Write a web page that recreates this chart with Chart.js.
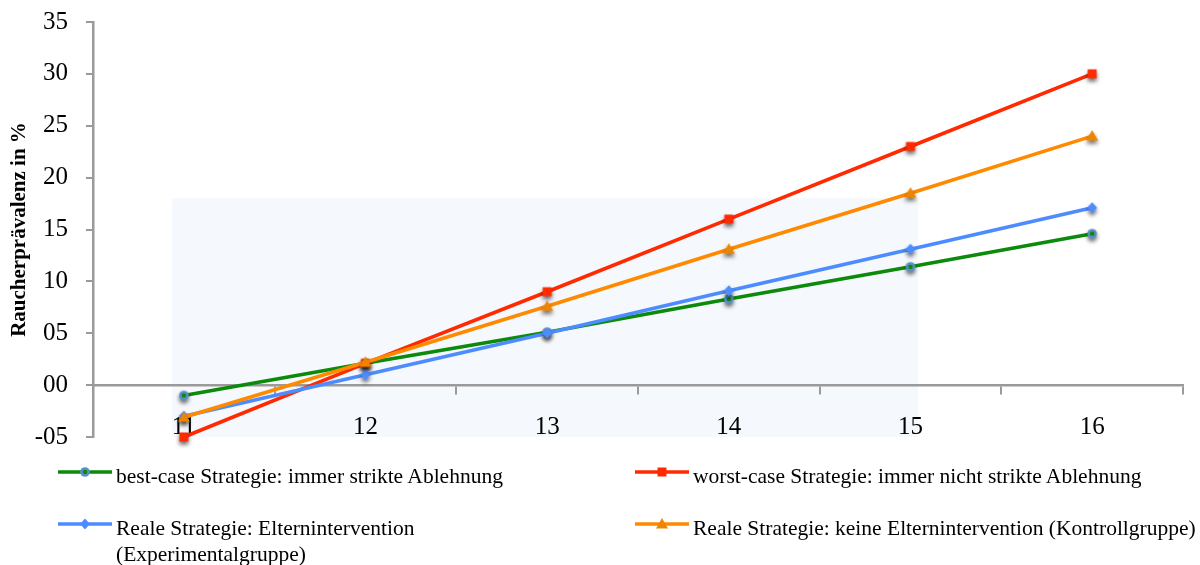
<!DOCTYPE html>
<html>
<head>
<meta charset="utf-8">
<script src="https://cdn.jsdelivr.net/npm/chart.js@4/dist/chart.umd.min.js"></script>
<style>
  html, body { margin: 0; padding: 0; background: #ffffff; }
  #wrap { position: relative; width: 1200px; height: 565px; overflow: hidden; }
  #chart { position: absolute; left: 0; top: 0; }
  .lg-item { position: absolute; }
  .lg-item canvas { position: absolute; left: 0; top: 0; }
  .lg-text { position: absolute; font-family: "Liberation Serif", "Times New Roman", serif; font-size: 21.5px; line-height: 26px; color: #000; }
</style>
</head>
<body>
<div id="wrap">
  <canvas id="chart" width="1200" height="565"></canvas>
  <div id="legend"></div>
</div>
<script>
// ---- data ----
const ages = ['11', '12', '13', '14', '15', '16'];
const bestCase = [-1.0, 2.1, 5.1, 8.3, 11.4, 14.6];
const worstCase = [-5.0, 2.1, 9.0, 16.0, 23.0, 30.0];
const realWithIntervention = [-3.0, 1.0, 5.0, 9.1, 13.1, 17.1];
const realNoIntervention = [-3.1, 2.2, 7.6, 13.1, 18.5, 24.0];
const seriesLabels = [
  'best-case Strategie: immer strikte Ablehnung',
  'worst-case Strategie: immer nicht strikte Ablehnung',
  'Reale Strategie: Elternintervention (Experimentalgruppe)',
  'Reale Strategie: keine Elternintervention (Kontrollgruppe)'
];
const yMin = -5, yMax = 35, yStep = 5;
const yTitle = 'Raucherprävalenz in %';

// ---- styling ----
const FONT = '"Liberation Serif", "Times New Roman", serif';
const AXIS_GRAY = '#9a9a9a';
const styles = [
  { line: '#0b8a0b', kind: 'circle', fill: '#0b8a0b', ring: '#5b8fc8', order: 4 },
  { line: '#ff2a00', kind: 'square', fill: '#ff2a00', order: 3 },
  { line: '#4d8cff', kind: 'diamond', fill: '#4d8cff', order: 2 },
  { line: '#ff8a00', kind: 'triangle', fill: '#ee8500', order: 1 }
];

function drawShape(ctx, st, shadow) {
  if (shadow) {
    ctx.shadowColor = 'rgba(0,0,0,0.6)';
    ctx.shadowBlur = 4;
    ctx.shadowOffsetX = 0;
    ctx.shadowOffsetY = 3;
  }
  ctx.beginPath();
  if (st.kind === 'circle') {
    ctx.fillStyle = st.ring;
    ctx.arc(0, 0, 4.8, 0, Math.PI * 2);
    ctx.fill();
    ctx.shadowColor = 'rgba(0,0,0,0)';
    ctx.beginPath();
    ctx.fillStyle = st.fill;
    ctx.arc(0, 0, 2.3, 0, Math.PI * 2);
    ctx.fill();
    return;
  }
  ctx.fillStyle = st.fill;
  if (st.kind === 'square') {
    ctx.rect(-4.5, -4.5, 9, 9);
  } else if (st.kind === 'diamond') {
    ctx.moveTo(0, -5.5); ctx.lineTo(5, 0); ctx.lineTo(0, 5.5); ctx.lineTo(-5, 0); ctx.closePath();
  } else if (st.kind === 'triangle') {
    ctx.moveTo(0, -6); ctx.lineTo(6, 4.5); ctx.lineTo(-6, 4.5); ctx.closePath();
  }
  ctx.fill();
}

function makeMarker(st, shadow) {
  const c = document.createElement('canvas');
  c.width = 28; c.height = 28;
  const ctx = c.getContext('2d');
  ctx.translate(14, 14);
  drawShape(ctx, st, shadow);
  return c;
}

const seriesValues = [bestCase, worstCase, realWithIntervention, realNoIntervention];

const datasets = seriesValues.map((vals, i) => ({
  label: seriesLabels[i],
  data: vals,
  borderColor: styles[i].line,
  backgroundColor: styles[i].line,
  borderWidth: 3.6,
  tension: 0,
  pointStyle: makeMarker(styles[i], true),
  pointRadius: 5,
  pointHoverRadius: 5,
  order: styles[i].order,
  clip: false
}));

function pad2(v) {
  const a = Math.abs(v);
  const s = a < 10 ? '0' + a : String(a);
  return v < 0 ? '-' + s : s;
}

// faint background panel visible behind the lower-left of the plot
const panelBox = { xFrom: -0.066, xTo: 4.04, yFrom: -5, yTo: 18 };
const panelPlugin = {
  id: 'panel',
  beforeDraw(chart) {
    const x = chart.scales.x, y = chart.scales.y, ctx = chart.ctx;
    const x0 = x.getPixelForValue(panelBox.xFrom), x1 = x.getPixelForValue(panelBox.xTo);
    const y0 = y.getPixelForValue(panelBox.yTo), y1 = y.getPixelForValue(panelBox.yFrom);
    ctx.save();
    ctx.fillStyle = '#f5f8fc';
    ctx.fillRect(x0, y0, x1 - x0, y1 - y0);
    ctx.restore();
  }
};

function noPad(scale) {
  scale.paddingTop = 0; scale.paddingBottom = 0;
  scale.paddingLeft = 0; scale.paddingRight = 0;
}

const chart = new Chart(document.getElementById('chart'), {
  type: 'line',
  data: { labels: ages, datasets },
  plugins: [panelPlugin],
  options: {
    responsive: false,
    animation: false,
    devicePixelRatio: 1,
    layout: { padding: { left: 0, right: 17, top: 22, bottom: 128 } },
    plugins: { legend: { display: false }, tooltip: { enabled: false } },
    scales: {
      x: {
        type: 'category',
        position: { y: 0 },
        offset: true,
        grid: { display: true, drawOnChartArea: false, drawTicks: true, tickLength: 8, offset: true, color: AXIS_GRAY, lineWidth: 2 },
        border: { display: true, color: AXIS_GRAY, width: 2.5 },
        ticks: { color: '#000', font: { family: FONT, size: 25 }, padding: 19, maxRotation: 0, autoSkip: false },
        afterFit(scale) { noPad(scale); }
      },
      y: {
        min: yMin, max: yMax,
        grid: { display: true, drawOnChartArea: false, drawTicks: true, tickLength: 7, color: AXIS_GRAY, lineWidth: 2 },
        border: { display: true, color: AXIS_GRAY, width: 2.5 },
        ticks: { stepSize: yStep, color: '#000', font: { family: FONT, size: 25 }, padding: 18, callback: v => pad2(v) },
        title: { display: true, text: yTitle, color: '#000', font: { family: FONT, size: 21, weight: 'bold' }, padding: { top: 7, bottom: 0 } },
        afterFit(scale) { scale.width = 93; noPad(scale); }
      }
    }
  }
});

// ---- legend (HTML, built from the datasets) ----
const legendCols = [58, 635];
const legendRows = [463, 515];
const legendTextWidth = [450, 520];
const legend = document.getElementById('legend');
datasets.forEach((ds, i) => {
  const col = i % 2, row = Math.floor(i / 2);
  const item = document.createElement('div');
  item.className = 'lg-item';
  item.style.left = legendCols[col] + 'px';
  item.style.top = legendRows[row] + 'px';
  const c = document.createElement('canvas');
  c.width = 56; c.height = 20;
  c.style.top = '0px';
  const ctx = c.getContext('2d');
  ctx.strokeStyle = ds.borderColor;
  ctx.lineWidth = 3.5;
  ctx.beginPath(); ctx.moveTo(0, 9); ctx.lineTo(54, 9); ctx.stroke();
  ctx.translate(27, 9);
  drawShape(ctx, styles[i], false);
  item.appendChild(c);
  const t = document.createElement('div');
  t.className = 'lg-text';
  t.style.left = '58px';
  t.style.top = '0px';
  t.style.width = legendTextWidth[col] + 'px';
  t.textContent = ds.label;
  item.appendChild(t);
  legend.appendChild(item);
});
</script>
</body>
</html>
